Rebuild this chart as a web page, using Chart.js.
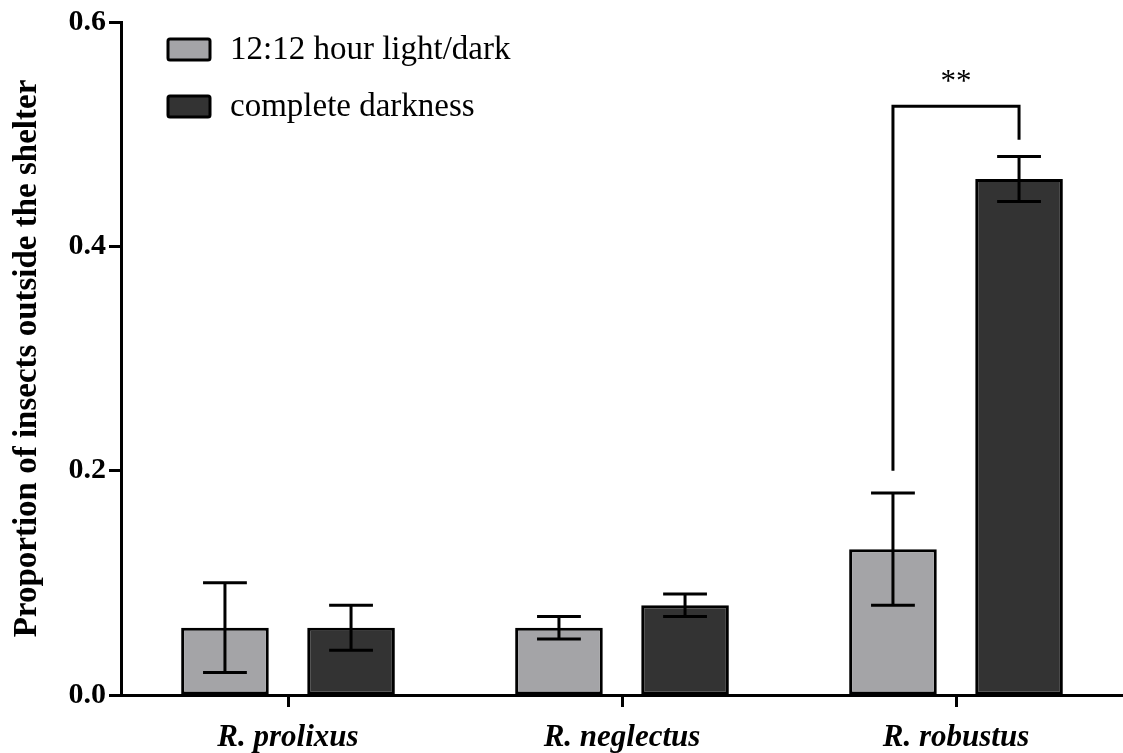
<!DOCTYPE html>
<html lang="en">
<head>
  <meta charset="UTF-8" />
  <title>Proportion of insects outside the shelter</title>
  <style>
    html, body {
      margin: 0;
      padding: 0;
      background: #fff;
    }
    #wrap {
      width: 1123px;
      height: 753px;
    }
  </style>
</head>
<body>

<div id="wrap">
  <canvas id="shelterChart" width="1123" height="753"></canvas>
</div>

<script src="https://cdn.jsdelivr.net/npm/chart.js"></script>
<script>
  // data
  const species = ['R. prolixus', 'R. neglectus', 'R. robustus'];
  const seriesNames = ['12:12 hour light/dark', 'complete darkness'];

  const lightMean = [0.06, 0.06, 0.13];
  const lightLow  = [0.02, 0.05, 0.08];
  const lightHigh = [0.10, 0.07, 0.18];

  const darkMean = [0.06, 0.08, 0.46];
  const darkLow  = [0.04, 0.07, 0.44];
  const darkHigh = [0.08, 0.09, 0.48];

  const yTicks = [0, 0.2, 0.4, 0.6];

  // significance bracket over R. robustus (values in y units)
  const sigIndex = 2;
  const sigLeftFrom = 0.20;
  const sigRightFrom = 0.495;
  const sigTop = 0.525;
  const sigLabel = '**';

  const lightColor = '#a4a4a7';
  const darkColor = '#333333';
  const serif = "'Liberation Serif', 'Times New Roman', serif";

  const errLow = [lightLow, darkLow];
  const errHigh = [lightHigh, darkHigh];

  // error bars, bracket and legend drawn on top of the bars
  const extras = {
    id: 'extras',
    afterDatasetsDraw(chart) {
      const ctx = chart.ctx;
      const y = chart.scales.y;
      ctx.save();
      ctx.strokeStyle = '#000';
      ctx.lineWidth = 3;
      ctx.lineCap = 'butt';

      chart.data.datasets.forEach((ds, di) => {
        const meta = chart.getDatasetMeta(di);
        meta.data.forEach((bar, i) => {
          const x = bar.x;
          const capHalf = bar.width / 4;
          const yLo = y.getPixelForValue(errLow[di][i]);
          const yHi = y.getPixelForValue(errHigh[di][i]);
          ctx.beginPath();
          ctx.moveTo(x, yLo);
          ctx.lineTo(x, yHi);
          ctx.moveTo(x - capHalf, yLo);
          ctx.lineTo(x + capHalf, yLo);
          ctx.moveTo(x - capHalf, yHi);
          ctx.lineTo(x + capHalf, yHi);
          ctx.stroke();
        });
      });

      // bracket
      const xL = chart.getDatasetMeta(0).data[sigIndex].x;
      const xR = chart.getDatasetMeta(1).data[sigIndex].x;
      const yT = y.getPixelForValue(sigTop);
      ctx.beginPath();
      ctx.moveTo(xL, y.getPixelForValue(sigLeftFrom));
      ctx.lineTo(xL, yT);
      ctx.lineTo(xR, yT);
      ctx.lineTo(xR, y.getPixelForValue(sigRightFrom));
      ctx.stroke();

      ctx.fillStyle = '#000';
      ctx.font = '31px ' + serif;
      ctx.textAlign = 'center';
      ctx.textBaseline = 'middle';
      ctx.fillText(sigLabel, (xL + xR) / 2, yT - 23);

      // legend
      const colors = [lightColor, darkColor];
      const rows = [49, 106];
      ctx.font = '33px ' + serif;
      ctx.textAlign = 'left';
      seriesNames.forEach((name, k) => {
        ctx.fillStyle = colors[k];
        ctx.beginPath();
        ctx.roundRect(168, rows[k] - 10, 42, 21, 2);
        ctx.fill();
        ctx.stroke();
        ctx.fillStyle = '#000';
        ctx.fillText(name, 230, rows[k] + 1);
      });
      ctx.restore();
    }
  };

  const ctx = document.getElementById('shelterChart').getContext('2d');
  new Chart(ctx, {
    type: 'bar',
    data: {
      labels: species,
      datasets: [{
        label: seriesNames[0],
        data: lightMean,
        backgroundColor: lightColor,
        borderColor: '#000',
        borderWidth: 3,
        borderSkipped: false
      }, {
        label: seriesNames[1],
        data: darkMean,
        backgroundColor: darkColor,
        borderColor: '#000',
        borderWidth: 3,
        borderSkipped: false
      }]
    },
    options: {
      responsive: false,
      animation: false,
      devicePixelRatio: 1,
      categoryPercentage: 0.755,
      barPercentage: 0.695,
      layout: {
        padding: { top: 22, right: -5, left: 0, bottom: 0 }
      },
      plugins: {
        legend: { display: false },
        tooltip: { enabled: false }
      },
      scales: {
        x: {
          offset: true,
          afterFit(scale) { scale.height = 58; },
          border: { display: true, color: '#000', width: 3 },
          grid: {
            offset: false,
            drawOnChartArea: false,
            drawTicks: true,
            tickLength: 12,
            tickWidth: 3,
            tickColor: '#000'
          },
          ticks: {
            color: '#000',
            padding: 12,
            font: { family: serif, size: 31, style: 'italic', weight: 'bold' }
          }
        },
        y: {
          min: 0,
          max: 0.6,
          afterFit(scale) { scale.width = 121; },
          afterBuildTicks(scale) {
            scale.ticks = yTicks.map(v => ({ value: v }));
          },
          border: { display: true, color: '#000', width: 3 },
          grid: {
            drawOnChartArea: false,
            drawTicks: true,
            tickLength: 12,
            tickWidth: 3,
            tickColor: '#000'
          },
          ticks: {
            color: '#000',
            padding: 3,
            font: { family: serif, size: 30, weight: 'bold' },
            callback: v => v.toFixed(1)
          },
          title: {
            display: true,
            text: 'Proportion of insects outside the shelter',
            color: '#000',
            padding: { top: 8, bottom: 0 },
            font: { family: serif, size: 33, weight: 'bold' }
          }
        }
      }
    },
    plugins: [extras]
  });
</script>

</body>
</html>
